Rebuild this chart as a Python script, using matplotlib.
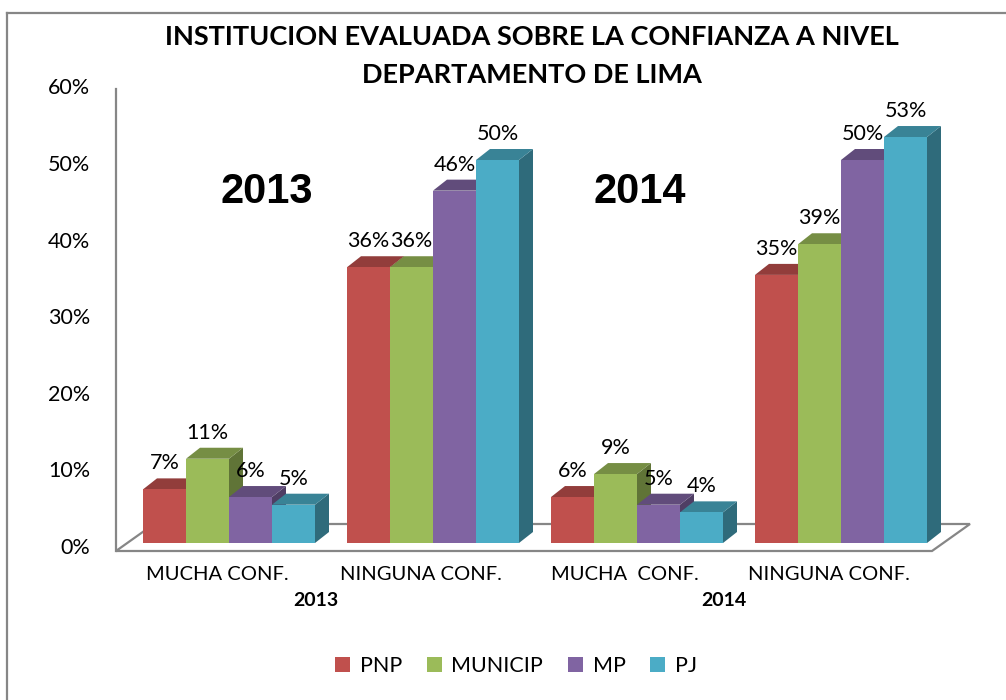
import matplotlib
matplotlib.use("Agg")
import matplotlib.pyplot as plt
from matplotlib.patches import Polygon, Patch
from matplotlib.lines import Line2D
from matplotlib.transforms import offset_copy, blended_transform_factory
from matplotlib.colors import to_rgb

plt.rcParams["font.family"] = ["Lato", "DejaVu Sans"]

categories = ["MUCHA CONF.", "NINGUNA CONF.", "MUCHA  CONF.", "NINGUNA CONF."]
years = ["2013", "2014"]
series = ["PNP", "MUNICIP", "MP", "PJ"]
pnp = [7, 36, 6, 35]
municip = [11, 36, 9, 39]
mp = [6, 46, 5, 50]
pj = [5, 50, 4, 53]
yticks = [0, 10, 20, 30, 40, 50, 60]
colors = ["#C0504D", "#9BBB59", "#8064A2", "#4BACC6"]
values = [pnp, municip, mp, pj]

W, H = 1006, 700
fig = plt.figure(figsize=(W / 100, H / 100), dpi=100)

# plot area: 204 px per category, 7.66 px per percent
PXX = 1 / 204
PXY = 1 / 7.66
ax = fig.add_axes([116 / W, (H - 543) / H, 854 / W, 60 / PXY / H])
ax.set_xlim(-113 * PXX, 741 * PXX)
ax.set_ylim(0, 60)
ax.axis("off")

bar_w = 43 * PXX
dx, dy = 14 * PXX, 11 * PXY
grey = "#868686"


def shade(c, f):
    r, g, b = to_rgb(c)
    return (r * f, g * f, b * f)


# floor and wall
x0, x1 = ax.get_xlim()
fy, by = -8 * PXY, 19 * PXY
fdx = 38 * PXX
floor = Polygon([(x0, fy), (x1 - fdx, fy), (x1, by), (x0 + fdx, by)], closed=True,
                facecolor="white", edgecolor=grey, lw=1.6, clip_on=False, zorder=1)
ax.add_patch(floor)
ax.add_line(Line2D([x0, x0], [fy, 59.3], color=grey, lw=1.6, clip_on=False, zorder=1))

# 3d-looking bars
for ci in range(len(categories)):
    for si, (vals, c) in enumerate(zip(values, colors)):
        v = vals[ci]
        xl = ci - 2 * bar_w + si * bar_w
        xr = xl + bar_w
        side = Polygon([(xr, 0), (xr + dx, dy), (xr + dx, v + dy), (xr, v)],
                       facecolor=shade(c, 0.62), edgecolor="none", clip_on=False, zorder=2)
        top = Polygon([(xl, v), (xl + dx, v + dy), (xr + dx, v + dy), (xr, v)],
                      facecolor=shade(c, 0.76), edgecolor="none", clip_on=False, zorder=2)
        front = Polygon([(xl, 0), (xl, v), (xr, v), (xr, 0)],
                        facecolor=c, edgecolor="none", clip_on=False, zorder=2)
        for p in (side, top, front):
            ax.add_patch(p)
        ax.text((xl + xr) / 2, v, f"{v}%", ha="center", va="baseline", fontsize=15.5,
                transform=offset_copy(ax.transData, fig=fig, y=20, units="dots"), zorder=5)

# y tick labels, right edge at x = 90 px
ytr = offset_copy(blended_transform_factory(fig.transFigure, ax.transData),
                  fig=fig, y=-5, units="dots")
for t in yticks:
    ax.text(90 / W, t, f"{t}%", ha="right", va="center", fontsize=15.5, transform=ytr)

# category and year labels
ctr = offset_copy(ax.get_xaxis_transform(), fig=fig, x=-12, y=-31, units="dots")
for ci, lab in enumerate(categories):
    ax.text(ci, 0, lab, ha="center", va="center", fontsize=14.5, transform=ctr)
gtr = offset_copy(ax.get_xaxis_transform(), fig=fig, x=-15, y=-57, units="dots")
for yi, yr in enumerate(years):
    ax.text(2 * yi + 0.5, 0, yr, ha="center", va="center", fontsize=14,
            fontweight="bold", transform=gtr)

# year callouts inside the plot
ax.text(38 * PXX, 351 * PXY, "2013", ha="center", va="center", fontsize=30,
        fontweight="bold", family="Liberation Sans")
ax.text(411 * PXX, 351 * PXY, "2014", ha="center", va="center", fontsize=30,
        fontweight="bold", family="Liberation Sans")

# title
fig.text(532 / W, 1 - 37 / H, "INSTITUCION EVALUADA SOBRE LA CONFIANZA A NIVEL",
         ha="center", va="center", fontsize=19.5, fontweight="bold")
fig.text(532 / W, 1 - 75 / H, "DEPARTAMENTO DE LIMA",
         ha="center", va="center", fontsize=19.5, fontweight="bold")

# legend
handles = [Patch(facecolor=c, edgecolor="none") for c in colors]
fig.legend(handles, series, loc="center", bbox_to_anchor=(516 / W, 1 - 666 / H), ncol=4,
           frameon=False, fontsize=15.5, handlelength=0.7, handleheight=0.7,
           handletextpad=0.45, columnspacing=1.15)

# outer chart frame (cropped at right / bottom)
fig.add_artist(Line2D([7 / W, 7 / W], [0, 1 - 13 / H], color=grey, lw=1.6))
fig.add_artist(Line2D([7 / W, 1], [1 - 13 / H, 1 - 13 / H], color=grey, lw=1.6))

fig.savefig("out.png", dpi=100)
